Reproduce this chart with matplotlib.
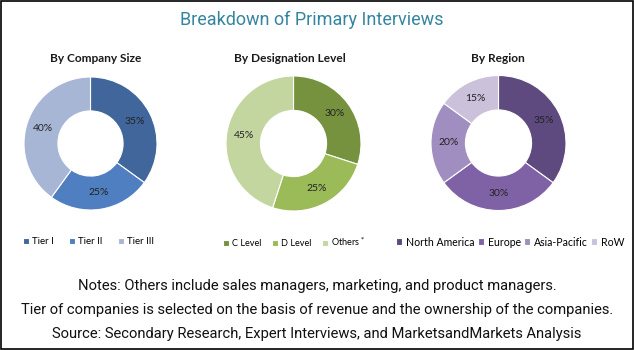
import matplotlib.pyplot as plt
from matplotlib.patches import Rectangle

W, H = 634, 350

# data
size_labels = ['Tier I', 'Tier II', 'Tier III']
size_vals = [35, 25, 40]
size_colors = ['#41669B', '#4F7FC0', '#A8B6D6']

desig_labels = ['C Level', 'D Level', 'Others$^*$']
desig_vals = [30, 25, 45]
desig_colors = ['#77923F', '#9BBB59', '#C4D6A0']

region_labels = ['North America', 'Europe', 'Asia-Pacific', 'RoW']
region_vals = [35, 30, 20, 15]
region_colors = ['#5E4A7E', '#7F62A5', '#A18EC0', '#CBC1DB']

notes = ['Notes: Others include sales managers, marketing, and product managers.',
         'Tier of companies is selected on the basis of revenue and the ownership of the companies.',
         'Source: Secondary Research, Expert Interviews, and MarketsandMarkets Analysis']

NARROW = ['Roboto', 'DejaVu Sans']
plt.rcParams['font.family'] = ['Lato', 'DejaVu Sans']

fig = plt.figure(figsize=(W / 100, H / 100), dpi=100)


def px_axes(cx, cy, r):
    return fig.add_axes([(cx - r) / W, 1 - (cy + r) / H, 2 * r / W, 2 * r / H])


def donut(cx, cy, r, vals, colors, labels, title, title_x, leg_x, colsp, legfs):
    ax = px_axes(cx, cy, r)
    wedges, _, autotexts = ax.pie(vals, colors=colors, startangle=90, counterclock=False,
                                  radius=1, autopct='%d%%', pctdistance=0.745,
                                  wedgeprops=dict(width=0.51, edgecolor='white', linewidth=0.8),
                                  textprops=dict(fontsize=7.5, color='#222222'))
    ax.set_xlim(-1, 1)
    ax.set_ylim(-1, 1)
    fig.text(title_x / W, 1 - 59 / H, title, ha='center', va='center',
             fontsize=8.6, fontweight='bold', color='#1a1a1a')
    fig.legend(wedges, labels, loc='center left', ncol=len(labels),
               bbox_to_anchor=(leg_x / W, 1 - 242 / H), frameon=False,
               fontsize=legfs, handlelength=0.6, handleheight=0.6,
               handletextpad=0.35, columnspacing=colsp, borderpad=0, borderaxespad=0)


donut(90.5, 143.5, 66.5, size_vals, size_colors, size_labels, 'By Company Size', 96, 23, 1.55, 7)
donut(293.5, 143.5, 67.5, desig_vals, desig_colors, desig_labels, 'By Designation Level', 290, 223, 1.2, 6.6)
donut(498.5, 143, 67.5, region_vals, region_colors, region_labels, 'By Region', 498, 396, 0.3, 7.6)

fig.text(312 / W, 1 - 20 / H, 'Breakdown of Primary Interviews', ha='center', va='center',
         fontsize=13, color='#3585A0', family=NARROW)

for i, line in enumerate(notes):
    fig.text(0.5, 1 - (286 + 24 * i) / H, line, ha='center', va='center',
             fontsize=10.6, color='#111111', family=NARROW)

fig.patches.append(Rectangle((0.5 / W, 1.5 / H), 1 - 1.5 / W, 1 - 2 / H,
                             transform=fig.transFigure, fill=False,
                             edgecolor='black', linewidth=1.2))

plt.savefig('out.png', dpi=100)
